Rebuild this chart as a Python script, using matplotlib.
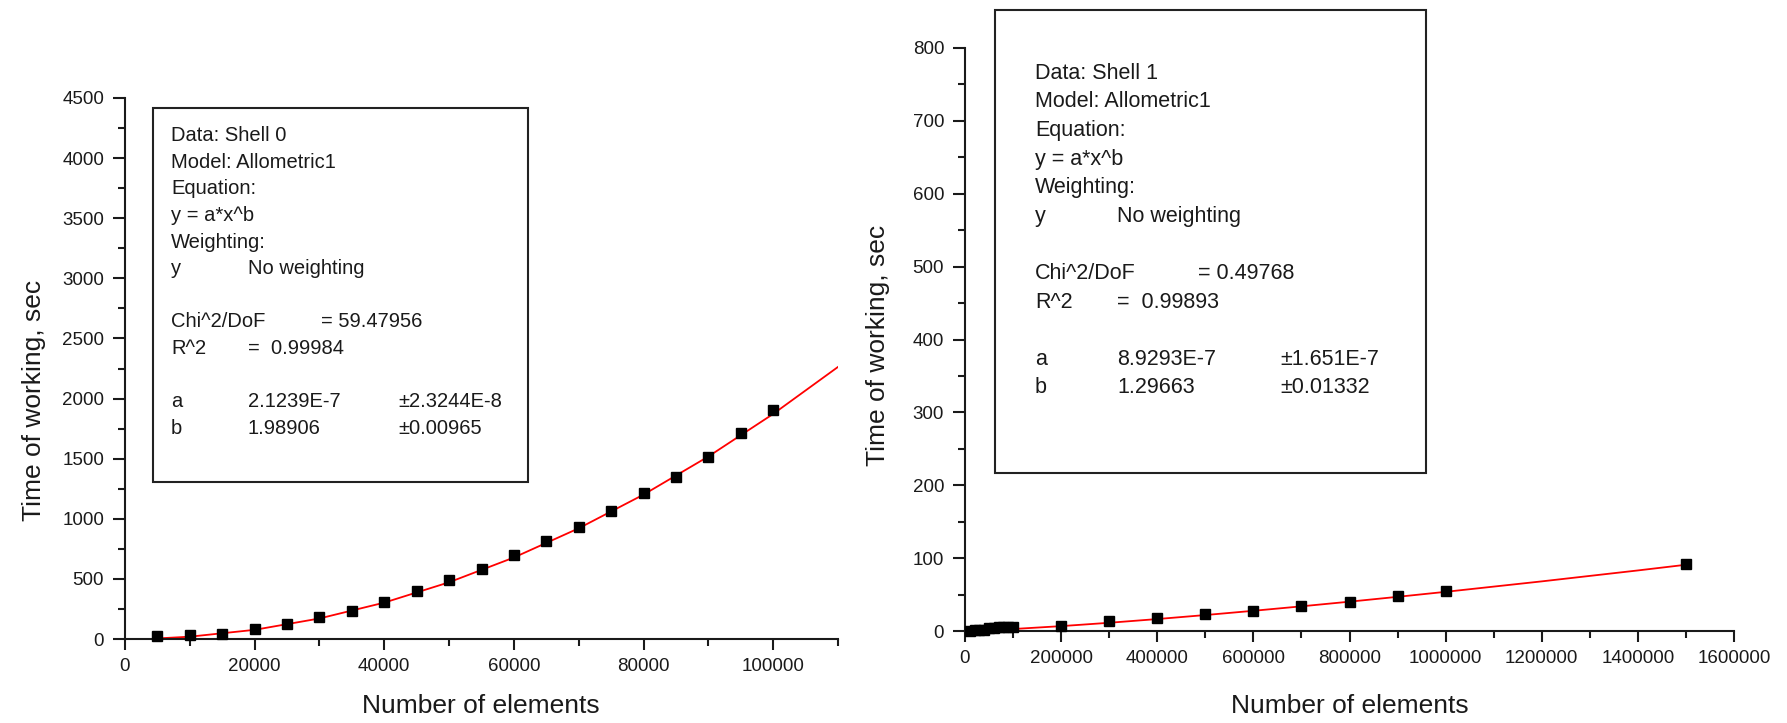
import matplotlib
matplotlib.use("Agg")
import matplotlib.pyplot as plt
from matplotlib.patches import Rectangle
from matplotlib.ticker import MultipleLocator, FuncFormatter

plt.rcParams['font.family'] = ['Liberation Sans', 'DejaVu Sans']

# ---------------- data: Shell 0 (left) ----------------
shell0_x = [5000, 10000, 15000, 20000, 25000, 30000, 35000, 40000, 45000, 50000,
            55000, 60000, 65000, 70000, 75000, 80000, 85000, 90000, 95000, 100000]
shell0_y = [22, 30, 45, 83, 128, 180, 233, 311, 397, 494,
            583, 700, 814, 931, 1067, 1217, 1350, 1517, 1717, 1906]
fit0_x = [5000, 10000, 20000, 30000, 40000, 50000, 60000, 70000, 80000, 90000, 100000, 110000]
fit0_y = [4.8, 19.2, 76.3, 170.8, 302.6, 471.8, 677.8, 920.9, 1201, 1518, 1872, 2263]

# ---------------- data: Shell 1 (right) ----------------
shell1_x = [10000, 20000, 30000, 40000, 50000, 60000, 70000, 80000, 90000, 100000,
            200000, 300000, 400000, 500000, 600000, 700000, 800000, 900000, 1000000, 1500000]
shell1_y = [0.5, 1, 1, 2, 4, 4.5, 5, 5, 5.5, 5.5,
            7, 14, 18, 23, 27, 34, 40, 48, 55, 92]
fit1_x = [0, 100000, 200000, 300000, 400000, 500000, 600000, 700000, 800000,
          900000, 1000000, 1200000, 1400000, 1500000]
fit1_y = [0, 2.72, 6.67, 11.29, 16.39, 21.89, 27.72, 33.85, 40.25,
          46.88, 53.75, 68.1, 83.1, 90.9]

x_label = "Number of elements"
y_label = "Time of working, sec"

# (text, column index, row index)
box0_lines = [
    ("Data: Shell 0", 0, 0), ("Model: Allometric1", 0, 1), ("Equation:", 0, 2),
    ("y = a*x^b", 0, 3), ("Weighting:", 0, 4), ("y", 0, 5), ("No weighting", 1, 5),
    ("Chi^2/DoF", 0, 7), ("= 59.47956", 2, 7), ("R^2", 0, 8), ("=  0.99984", 1, 8),
    ("a", 0, 10), ("2.1239E-7", 1, 10), ("±2.3244E-8", 3, 10),
    ("b", 0, 11), ("1.98906", 1, 11), ("±0.00965", 3, 11),
]
box1_lines = [
    ("Data: Shell 1", 0, 0), ("Model: Allometric1", 0, 1), ("Equation:", 0, 2),
    ("y = a*x^b", 0, 3), ("Weighting:", 0, 4), ("y", 0, 5), ("No weighting", 1, 5),
    ("Chi^2/DoF", 0, 7), ("= 0.49768", 2, 7), ("R^2", 0, 8), ("=  0.99893", 1, 8),
    ("a", 0, 10), ("8.9293E-7", 1, 10), ("±1.651E-7", 3, 10),
    ("b", 0, 11), ("1.29663", 1, 11), ("±0.01332", 3, 11),
]

W, H = 1787, 723
fig = plt.figure(figsize=(W / 100, H / 100), dpi=100)


def fx(px):
    return px / W


def fy(py):
    return 1 - py / H


def make_axes(l, t, r, b):
    return fig.add_axes([fx(l), fy(b), fx(r) - fx(l), fy(t) - fy(b)])


def style(ax, xmax, ymax, xmaj, xmin, ymaj, ymin):
    ax.set_xlim(0, xmax)
    ax.set_ylim(0, ymax)
    for s in ['top', 'right']:
        ax.spines[s].set_visible(False)
    for s in ['left', 'bottom']:
        ax.spines[s].set_linewidth(1.5)
        ax.spines[s].set_color('#1a1a1a')
    ax.xaxis.set_major_locator(MultipleLocator(xmaj))
    ax.xaxis.set_minor_locator(MultipleLocator(xmin))
    ax.yaxis.set_major_locator(MultipleLocator(ymaj))
    ax.yaxis.set_minor_locator(MultipleLocator(ymin))
    fmt = FuncFormatter(lambda v, p: f"{int(round(v))}")
    ax.xaxis.set_major_formatter(fmt)
    ax.yaxis.set_major_formatter(fmt)
    ax.tick_params(which='major', direction='out', length=9, width=1.5,
                   labelsize=13.5, colors='#1a1a1a', pad=6)
    ax.tick_params(which='minor', direction='out', length=5, width=1.5,
                   colors='#1a1a1a')
    ax.tick_params(axis='x', which='major', length=8)
    ax.patch.set_alpha(0)


# ---- left panel ----
ax0 = make_axes(125, 98, 838, 639)
style(ax0, 110000, 4500, 20000, 10000, 500, 250)
ax0.plot(fit0_x, fit0_y, color='red', lw=1.3, zorder=2)
ax0.plot(shell0_x, shell0_y, linestyle='none', marker='s', ms=7,
         color='black', clip_on=False, zorder=3)

# ---- right panel ----
ax1 = make_axes(965, 48, 1734, 631)
style(ax1, 1600000, 800, 200000, 100000, 100, 50)
ax1.plot(fit1_x, fit1_y, color='red', lw=1.3, zorder=2)
ax1.plot(shell1_x, shell1_y, linestyle='none', marker='s', ms=7,
         color='black', clip_on=False, zorder=3)

# axis labels
fig.text(fx(481), fy(706), x_label, fontsize=19, ha='center', va='center', color='#1a1a1a')
fig.text(fx(1350), fy(706), x_label, fontsize=19, ha='center', va='center', color='#1a1a1a')
fig.text(fx(34), fy(400), y_label, fontsize=19, ha='center', va='center',
         rotation=90, color='#1a1a1a')
fig.text(fx(878), fy(345), y_label, fontsize=19, ha='center', va='center',
         rotation=90, color='#1a1a1a')


def draw_box(l, t, r, b, cols, row0, drow, lines, fs):
    fig.patches.append(Rectangle((fx(l), fy(b)), fx(r) - fx(l), fy(t) - fy(b),
                                 transform=fig.transFigure, fill=False,
                                 edgecolor='#222222', lw=1.5, zorder=5))
    for txt, c, r_ in lines:
        yc = row0 + drow * r_
        fig.text(fx(cols[c]), fy(yc + fs * 0.5), txt, fontsize=fs,
                 ha='left', va='baseline', color='#1a1a1a')


draw_box(153, 108, 528, 482, [171, 248, 321, 398], 134, 26.6, box0_lines, 14.5)
draw_box(995, 10, 1426, 473, [1035, 1117, 1198, 1280], 71, 28.6, box1_lines, 15.5)

fig.savefig("out.png", dpi=100, facecolor='white')
